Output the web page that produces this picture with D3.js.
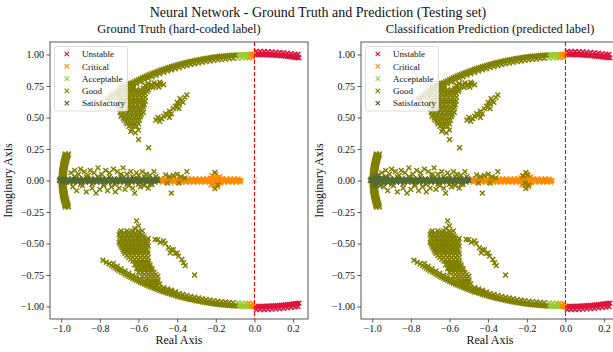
<!DOCTYPE html>
<html><head><meta charset="utf-8">
<script src="https://cdn.jsdelivr.net/npm/d3@7"></script>
<style>
body{margin:0;background:#fff}
text{font-family:"Liberation Serif","Times New Roman",serif;fill:#111}
</style></head>
<body><svg id="c" width="613" height="352"></svg>
<script>
// ---------- data ----------
const classNames = ["Unstable","Critical","Acceptable","Good","Satisfactory"];
const classColors = ["#dc143c","#ff8c00","#9acd32","#808000","#556b2f"];
const xTicks = [-1.0,-0.8,-0.6,-0.4,-0.2,0.0,0.2];
const yTicks = [-1.0,-0.75,-0.5,-0.25,0.0,0.25,0.5,0.75,1.0];
const mainTitle = "Neural Network - Ground Truth and Prediction (Testing set)";
const panelTitles = ["Ground Truth (hard-coded label)","Classification Prediction (predicted label)"];

const unstableArc = [
 [0.00,1.000],[0.01,1.000],[0.02,1.000],[0.03,1.000],[0.04,0.999],[0.05,0.999],[0.06,0.998],[0.07,0.998],[0.08,0.997],[0.09,0.996],[0.10,0.995],[0.11,0.994],[0.12,0.993],[0.13,0.992],[0.14,0.990],[0.15,0.989],[0.16,0.987],[0.17,0.986],[0.18,0.984],[0.19,0.982],[0.20,0.980],[0.21,0.978],[0.22,0.976],[0.23,0.973],
 [0.01,1.025],[0.03,1.025],[0.05,1.024],[0.07,1.023],[0.09,1.021],[0.11,1.019],[0.13,1.017],[0.15,1.014],[0.17,1.011],[0.19,1.007],[0.21,1.003],[0.225,1.000],
 [0.00,-1.000],[0.01,-1.000],[0.02,-1.000],[0.03,-1.000],[0.04,-0.999],[0.05,-0.999],[0.06,-0.998],[0.07,-0.998],[0.08,-0.997],[0.09,-0.996],[0.10,-0.995],[0.11,-0.994],[0.12,-0.993],[0.13,-0.992],[0.14,-0.990],[0.15,-0.989],[0.16,-0.987],[0.17,-0.986],[0.18,-0.984],[0.19,-0.982],[0.20,-0.980],[0.21,-0.978],[0.22,-0.976],[0.23,-0.973],
 [0.01,-1.025],[0.03,-1.025],[0.05,-1.024],[0.07,-1.023],[0.09,-1.021],[0.11,-1.019],[0.13,-1.017],[0.15,-1.014],[0.17,-1.011],[0.19,-1.007],[0.21,-1.003],[0.225,-1.000]
];
const criticalArc = [
 [-0.035,0.999],[-0.025,1.0],[-0.015,1.0],[-0.005,1.0],[-0.03,0.975],[-0.01,0.975],
 [-0.035,-0.999],[-0.025,-1.0],[-0.015,-1.0],[-0.005,-1.0],[-0.03,-0.975],[-0.01,-0.975]
];
const criticalLineX = [-0.49,-0.48,-0.47,-0.46,-0.45,-0.44,-0.43,-0.42,-0.41,-0.40,-0.39,-0.38,-0.37,-0.36,-0.35,-0.34,-0.33,-0.32,-0.31,-0.30,-0.29,-0.28,-0.27,-0.26,-0.25,-0.24,-0.23,-0.22,-0.21,-0.20,-0.19,-0.18,-0.17,-0.16,-0.15,-0.14,-0.13,-0.12,-0.11,-0.10,-0.09,-0.08,-0.07];
const criticalBand = [
 [-0.485,0.012],[-0.465,0.012],[-0.445,0.012],[-0.425,0.012],[-0.405,0.012],[-0.385,0.012],[-0.365,0.012],[-0.345,0.012],[-0.325,0.012],[-0.305,0.012],[-0.285,0.012],[-0.265,0.012],[-0.245,0.012],[-0.225,0.012],[-0.205,0.012],[-0.185,0.012],[-0.165,0.012],[-0.145,0.012],[-0.125,0.012],[-0.105,0.012],[-0.085,0.012],
 [-0.475,-0.012],[-0.455,-0.012],[-0.435,-0.012],[-0.415,-0.012],[-0.395,-0.012],[-0.375,-0.012],[-0.355,-0.012],[-0.335,-0.012],[-0.315,-0.012],[-0.295,-0.012],[-0.275,-0.012],[-0.255,-0.012],[-0.235,-0.012],[-0.215,-0.012],[-0.195,-0.012],[-0.175,-0.012],[-0.155,-0.012],[-0.135,-0.012],[-0.115,-0.012],[-0.095,-0.012],[-0.075,-0.012]
];
const criticalCluster = [[-0.23,0.02],[-0.22,-0.02],[-0.21,0.03],[-0.20,-0.03],[-0.19,0.02],[-0.18,-0.02],[-0.22,0.04],[-0.20,0.05],[-0.19,-0.05],[-0.21,-0.04],[-0.18,0.03],[-0.20,0.00],[-0.215,0.01],[-0.185,-0.01],[-0.225,-0.035],[-0.175,0.01]];
const acceptableArc = [
 [-0.09,0.996],[-0.08,0.997],[-0.07,0.998],[-0.06,0.998],[-0.05,0.999],[-0.04,0.999],[-0.085,0.972],[-0.065,0.973],[-0.045,0.974],
 [-0.09,-0.996],[-0.08,-0.997],[-0.07,-0.998],[-0.06,-0.998],[-0.05,-0.999],[-0.04,-0.999],[-0.085,-0.972],[-0.065,-0.973],[-0.045,-0.974]
];
const goodArcUpper = [
 [-0.76,0.650],[-0.75,0.661],[-0.74,0.673],[-0.73,0.683],[-0.72,0.694],[-0.71,0.704],[-0.70,0.714],[-0.69,0.724],[-0.68,0.733],[-0.67,0.742],[-0.66,0.751],[-0.65,0.760],[-0.64,0.768],[-0.63,0.777],[-0.62,0.785],[-0.61,0.792],[-0.60,0.800],[-0.59,0.807],[-0.58,0.815],[-0.57,0.822],[-0.56,0.828],[-0.55,0.835],[-0.54,0.842],[-0.53,0.848],[-0.52,0.854],[-0.51,0.860],[-0.50,0.866],[-0.49,0.872],[-0.48,0.877],[-0.47,0.883],[-0.46,0.888],[-0.45,0.893],[-0.44,0.898],[-0.43,0.903],[-0.42,0.908],[-0.41,0.912],[-0.40,0.917],[-0.39,0.921],[-0.38,0.925],[-0.37,0.929],[-0.36,0.933],[-0.35,0.937],[-0.34,0.940],[-0.33,0.944],[-0.32,0.947],[-0.31,0.951],[-0.30,0.954],[-0.29,0.957],[-0.28,0.960],[-0.27,0.963],[-0.26,0.966],[-0.25,0.968],[-0.24,0.971],[-0.23,0.973],[-0.22,0.976],[-0.21,0.978],[-0.20,0.980],[-0.19,0.982],[-0.18,0.984],[-0.17,0.986],[-0.16,0.987],[-0.15,0.989],[-0.14,0.990],[-0.13,0.992],[-0.12,0.993],[-0.11,0.994],[-0.10,0.995],
 [-0.75,0.636],[-0.73,0.658],[-0.71,0.679],[-0.69,0.699],[-0.67,0.717],[-0.65,0.735],[-0.63,0.752],[-0.61,0.767],[-0.59,0.782],[-0.57,0.797],[-0.55,0.810],[-0.53,0.823],[-0.51,0.835],[-0.49,0.847],[-0.47,0.858],[-0.45,0.868],[-0.43,0.878],[-0.41,0.887],[-0.39,0.896],[-0.37,0.904],[-0.35,0.912],[-0.33,0.919],[-0.31,0.926],[-0.29,0.932],[-0.27,0.938],[-0.25,0.943],[-0.23,0.948],[-0.21,0.953],[-0.19,0.957],[-0.17,0.961],[-0.15,0.964],[-0.13,0.967],[-0.11,0.969]
];
const goodArcLower = [
 [-0.784,-0.633],[-0.767,-0.649],[-0.752,-0.661],
 [-0.74,-0.673],[-0.73,-0.683],[-0.72,-0.694],[-0.71,-0.704],[-0.70,-0.714],[-0.69,-0.724],[-0.68,-0.733],[-0.67,-0.742],[-0.66,-0.751],[-0.65,-0.760],[-0.64,-0.768],[-0.63,-0.777],[-0.62,-0.785],[-0.61,-0.792],[-0.60,-0.800],[-0.59,-0.807],[-0.58,-0.815],[-0.57,-0.822],[-0.56,-0.828],[-0.55,-0.835],[-0.54,-0.842],[-0.53,-0.848],[-0.52,-0.854],[-0.51,-0.860],[-0.50,-0.866],[-0.49,-0.872],[-0.48,-0.877],[-0.47,-0.883],[-0.46,-0.888],[-0.45,-0.893],[-0.44,-0.898],[-0.43,-0.903],[-0.42,-0.908],[-0.41,-0.912],[-0.40,-0.917],[-0.39,-0.921],[-0.38,-0.925],[-0.37,-0.929],[-0.36,-0.933],[-0.35,-0.937],[-0.34,-0.940],[-0.33,-0.944],[-0.32,-0.947],[-0.31,-0.951],[-0.30,-0.954],[-0.29,-0.957],[-0.28,-0.960],[-0.27,-0.963],[-0.26,-0.966],[-0.25,-0.968],[-0.24,-0.971],[-0.23,-0.973],[-0.22,-0.976],[-0.21,-0.978],[-0.20,-0.980],[-0.19,-0.982],[-0.18,-0.984],[-0.17,-0.986],[-0.16,-0.987],[-0.15,-0.989],[-0.14,-0.990],[-0.13,-0.992],[-0.12,-0.993],[-0.11,-0.994],[-0.10,-0.995],
 [-0.73,-0.658],[-0.71,-0.679],[-0.69,-0.699],[-0.67,-0.717],[-0.65,-0.735],[-0.63,-0.752],[-0.61,-0.767],[-0.59,-0.782],[-0.57,-0.797],[-0.55,-0.810],[-0.53,-0.823],[-0.51,-0.835],[-0.49,-0.847],[-0.47,-0.858],[-0.45,-0.868],[-0.43,-0.878],[-0.41,-0.887],[-0.39,-0.896],[-0.37,-0.904],[-0.35,-0.912],[-0.33,-0.919],[-0.31,-0.926],[-0.29,-0.932],[-0.27,-0.938],[-0.25,-0.943],[-0.23,-0.948],[-0.21,-0.953],[-0.19,-0.957],[-0.17,-0.961],[-0.15,-0.964],[-0.13,-0.967],[-0.11,-0.969]
];
const goodVertical = [
 [-0.978,0.21],[-0.982,0.19],[-0.985,0.17],[-0.989,0.15],[-0.992,0.13],[-0.994,0.11],[-0.996,0.09],[-0.998,0.07],[-0.999,0.05],[-1.000,0.03],[-1.000,0.01],
 [-0.978,-0.21],[-0.982,-0.19],[-0.985,-0.17],[-0.989,-0.15],[-0.992,-0.13],[-0.994,-0.11],[-0.996,-0.09],[-0.998,-0.07],[-0.999,-0.05],[-1.000,-0.03],[-1.000,-0.01],
 [-0.980,0.20],[-0.984,0.18],[-0.987,0.16],[-0.990,0.14],[-0.993,0.12],[-0.995,0.10],[-0.997,0.08],[-0.998,0.06],[-0.999,0.04],[-1.000,0.02],[-1.000,0.00],
 [-0.980,-0.20],[-0.984,-0.18],[-0.987,-0.16],[-0.990,-0.14],[-0.993,-0.12],[-0.995,-0.10],[-0.997,-0.08],[-0.998,-0.06],[-0.999,-0.04],[-1.000,-0.02],
 [-0.965,0.20],[-0.969,0.18],[-0.972,0.16],[-0.975,0.14],[-0.978,0.12],[-0.980,0.10],[-0.982,0.08],[-0.983,0.06],[-0.984,0.04],[-0.985,0.02],[-0.985,0.00],
 [-0.965,-0.20],[-0.969,-0.18],[-0.972,-0.16],[-0.975,-0.14],[-0.978,-0.12],[-0.980,-0.10],[-0.982,-0.08],[-0.983,-0.06],[-0.984,-0.04],[-0.985,-0.02],
 [-0.963,0.21],[-0.967,0.19],[-0.970,0.17],[-0.974,0.15],[-0.977,0.13],[-0.979,0.11],[-0.981,0.09],[-0.983,0.07],[-0.984,0.05],[-0.985,0.03],[-0.985,0.01],
 [-0.963,-0.21],[-0.967,-0.19],[-0.970,-0.17],[-0.974,-0.15],[-0.977,-0.13],[-0.979,-0.11],[-0.981,-0.09],[-0.983,-0.07],[-0.984,-0.05],[-0.985,-0.03],[-0.985,-0.01]
];
const goodUpperBlob = [
 [-0.66,0.77],[-0.63,0.77],[-0.55,0.77],[-0.52,0.775],[-0.49,0.78],
 [-0.675,0.757],[-0.655,0.757],[-0.565,0.757],[-0.535,0.76],[-0.505,0.765],[-0.485,0.768],
 [-0.69,0.745],[-0.67,0.745],[-0.64,0.745],[-0.56,0.745],[-0.53,0.75],[-0.50,0.755],[-0.47,0.76],
 [-0.685,0.733],[-0.665,0.733],[-0.645,0.733],[-0.625,0.733],[-0.575,0.733],[-0.555,0.733],[-0.525,0.738],[-0.495,0.742],
 [-0.68,0.72],[-0.66,0.72],[-0.63,0.72],[-0.61,0.72],[-0.59,0.72],[-0.57,0.72],[-0.55,0.72],
 [-0.695,0.705],[-0.675,0.705],[-0.655,0.705],[-0.635,0.705],[-0.615,0.705],[-0.595,0.705],[-0.575,0.705],[-0.555,0.705],
 [-0.70,0.69],[-0.68,0.69],[-0.66,0.69],[-0.64,0.69],[-0.62,0.69],[-0.60,0.69],[-0.58,0.69],[-0.565,0.69],
 [-0.695,0.675],[-0.675,0.675],[-0.655,0.675],[-0.635,0.675],[-0.615,0.675],[-0.595,0.675],[-0.575,0.675],
 [-0.705,0.66],[-0.685,0.66],[-0.665,0.66],[-0.645,0.66],[-0.625,0.66],[-0.605,0.66],[-0.585,0.66],[-0.565,0.66],
 [-0.695,0.645],[-0.675,0.645],[-0.655,0.645],[-0.635,0.645],[-0.615,0.645],[-0.595,0.645],[-0.575,0.645],
 [-0.70,0.63],[-0.68,0.63],[-0.66,0.63],[-0.64,0.63],[-0.62,0.63],[-0.60,0.63],[-0.58,0.63],[-0.565,0.63],
 [-0.695,0.615],[-0.675,0.615],[-0.655,0.615],[-0.635,0.615],[-0.615,0.615],[-0.595,0.615],[-0.575,0.615],
 [-0.705,0.60],[-0.685,0.60],[-0.665,0.60],[-0.645,0.60],[-0.625,0.60],[-0.605,0.60],[-0.585,0.60],[-0.57,0.60],
 [-0.695,0.585],[-0.675,0.585],[-0.655,0.585],[-0.635,0.585],[-0.615,0.585],[-0.595,0.585],[-0.575,0.585],
 [-0.70,0.57],[-0.68,0.57],[-0.66,0.57],[-0.64,0.57],[-0.62,0.57],[-0.60,0.57],[-0.58,0.57],
 [-0.69,0.555],[-0.67,0.555],[-0.65,0.555],[-0.63,0.555],[-0.61,0.555],[-0.59,0.555],
 [-0.695,0.54],[-0.675,0.54],[-0.655,0.54],[-0.635,0.54],[-0.615,0.54],[-0.595,0.54],[-0.575,0.54],
 [-0.685,0.525],[-0.665,0.525],[-0.645,0.525],[-0.625,0.525],[-0.605,0.525],[-0.585,0.525],
 [-0.69,0.51],[-0.67,0.51],[-0.65,0.51],[-0.63,0.51],[-0.61,0.51],[-0.59,0.51],
 [-0.68,0.495],[-0.66,0.495],[-0.64,0.495],[-0.62,0.495],[-0.60,0.495],
 [-0.675,0.48],[-0.655,0.48],[-0.635,0.48],[-0.615,0.48],[-0.595,0.48],
 [-0.665,0.465],[-0.645,0.465],[-0.625,0.465],[-0.605,0.465],
 [-0.66,0.45],[-0.64,0.45],[-0.62,0.45],[-0.60,0.45],
 [-0.64,0.44],[-0.62,0.44],
 [-0.65,0.43],[-0.63,0.43],[-0.61,0.43],
 [-0.634,0.405],[-0.617,0.378],[-0.60,0.325],[-0.548,0.26],[-0.64,0.39],[-0.60,0.40]
];
const goodUpperStreak = [
 [-0.51,0.48],[-0.50,0.50],[-0.49,0.47],[-0.48,0.49],[-0.47,0.51],[-0.46,0.53],[-0.45,0.52],[-0.44,0.55],[-0.43,0.53],[-0.42,0.57],[-0.41,0.59],[-0.40,0.58],[-0.39,0.61],[-0.38,0.63],[-0.37,0.62],[-0.36,0.66],[-0.35,0.68],[-0.385,0.65],[-0.40,0.62],[-0.44,0.50],[-0.39,0.57]
];
const goodLowerBlob = [
 [-0.61,-0.32],[-0.60,-0.36],[-0.62,-0.38],
 [-0.69,-0.40],[-0.66,-0.40],[-0.63,-0.40],[-0.60,-0.40],[-0.58,-0.40],
 [-0.695,-0.415],[-0.675,-0.415],[-0.655,-0.415],[-0.635,-0.415],[-0.615,-0.415],[-0.595,-0.415],
 [-0.70,-0.43],[-0.68,-0.43],[-0.66,-0.43],[-0.64,-0.43],[-0.62,-0.43],[-0.60,-0.43],[-0.58,-0.43],
 [-0.695,-0.445],[-0.675,-0.445],[-0.655,-0.445],[-0.635,-0.445],[-0.615,-0.445],[-0.595,-0.445],[-0.575,-0.445],
 [-0.69,-0.46],[-0.67,-0.46],[-0.65,-0.46],[-0.63,-0.46],[-0.61,-0.46],[-0.59,-0.46],[-0.57,-0.46],[-0.55,-0.46],
 [-0.695,-0.475],[-0.675,-0.475],[-0.655,-0.475],[-0.635,-0.475],[-0.615,-0.475],[-0.595,-0.475],[-0.575,-0.475],[-0.555,-0.475],
 [-0.70,-0.49],[-0.68,-0.49],[-0.66,-0.49],[-0.64,-0.49],[-0.62,-0.49],[-0.60,-0.49],[-0.58,-0.49],[-0.56,-0.49],
 [-0.695,-0.505],[-0.675,-0.505],[-0.655,-0.505],[-0.635,-0.505],[-0.615,-0.505],[-0.595,-0.505],[-0.575,-0.505],[-0.555,-0.505],
 [-0.69,-0.52],[-0.67,-0.52],[-0.65,-0.52],[-0.63,-0.52],[-0.61,-0.52],[-0.59,-0.52],[-0.57,-0.52],[-0.55,-0.52],
 [-0.685,-0.535],[-0.665,-0.535],[-0.645,-0.535],[-0.625,-0.535],[-0.605,-0.535],[-0.585,-0.535],[-0.565,-0.535],
 [-0.68,-0.55],[-0.66,-0.55],[-0.64,-0.55],[-0.62,-0.55],[-0.60,-0.55],[-0.58,-0.55],[-0.56,-0.55],
 [-0.675,-0.565],[-0.655,-0.565],[-0.635,-0.565],[-0.615,-0.565],[-0.595,-0.565],[-0.575,-0.565],[-0.555,-0.565],
 [-0.67,-0.58],[-0.65,-0.58],[-0.63,-0.58],[-0.61,-0.58],[-0.59,-0.58],[-0.57,-0.58],[-0.55,-0.58],
 [-0.66,-0.595],[-0.64,-0.595],[-0.62,-0.595],[-0.60,-0.595],[-0.58,-0.595],[-0.56,-0.595],
 [-0.65,-0.61],[-0.63,-0.61],[-0.61,-0.61],[-0.59,-0.61],[-0.57,-0.61],[-0.55,-0.61],
 [-0.64,-0.625],[-0.62,-0.625],[-0.60,-0.625],[-0.58,-0.625],[-0.56,-0.625],
 [-0.63,-0.64],[-0.61,-0.64],[-0.59,-0.64],[-0.57,-0.64],[-0.55,-0.64],
 [-0.61,-0.655],[-0.59,-0.655],[-0.57,-0.655],[-0.55,-0.655],
 [-0.62,-0.67],[-0.60,-0.67],[-0.58,-0.67],[-0.56,-0.67],[-0.54,-0.67],
 [-0.60,-0.685],[-0.58,-0.685],[-0.56,-0.685],[-0.54,-0.685],
 [-0.61,-0.70],[-0.59,-0.70],[-0.57,-0.70],[-0.55,-0.70],[-0.53,-0.70],
 [-0.59,-0.715],[-0.57,-0.715],[-0.55,-0.715],[-0.53,-0.715],
 [-0.60,-0.73],[-0.58,-0.73],[-0.56,-0.73],[-0.54,-0.73],[-0.52,-0.73],
 [-0.57,-0.745],[-0.55,-0.745],[-0.53,-0.745],[-0.51,-0.745],
 [-0.58,-0.76],[-0.56,-0.76],[-0.54,-0.76],[-0.52,-0.76],[-0.50,-0.76],
 [-0.55,-0.775],[-0.53,-0.775],[-0.51,-0.775],
 [-0.56,-0.79],[-0.54,-0.79],[-0.52,-0.79],[-0.50,-0.79],
 [-0.54,-0.805],[-0.52,-0.805],[-0.50,-0.805],
 [-0.53,-0.82],[-0.51,-0.82],[-0.49,-0.82],
 [-0.47,-0.85],[-0.45,-0.86],[-0.43,-0.87],[-0.41,-0.885],[-0.46,-0.875]
];
const goodLowerStreak = [
 [-0.514,-0.468],[-0.50,-0.47],[-0.488,-0.49],[-0.47,-0.48],[-0.462,-0.50],[-0.445,-0.534],[-0.436,-0.574],[-0.43,-0.55],[-0.419,-0.548],[-0.41,-0.58],[-0.40,-0.574],[-0.393,-0.60],[-0.376,-0.627],[-0.367,-0.653],[-0.358,-0.675],[-0.31,-0.75]
];
const goodRealScatter = [
 [-0.95,0.06],[-0.94,-0.05],[-0.93,0.08],[-0.92,-0.08],[-0.91,0.05],[-0.90,0.09],[-0.89,-0.04],[-0.88,0.07],[-0.87,-0.09],[-0.86,0.04],[-0.85,0.08],[-0.84,-0.06],[-0.83,0.06],[-0.82,-0.10],[-0.81,0.10],[-0.80,-0.07],[-0.79,0.05],[-0.78,-0.04],[-0.77,0.08],[-0.76,-0.08],[-0.75,0.06],[-0.74,-0.05],[-0.73,0.09],[-0.72,-0.09],[-0.71,0.07],[-0.70,-0.06],[-0.69,0.05],[-0.68,0.10],[-0.67,-0.07],[-0.66,0.05],[-0.65,-0.04],[-0.64,0.07],[-0.63,-0.06],[-0.62,-0.10],[-0.61,0.06],[-0.60,0.04],[-0.59,-0.05],[-0.58,0.07],[-0.57,-0.04],[-0.56,0.05],[-0.55,-0.06],[-0.54,0.04],[-0.53,-0.03],[-0.52,0.07],[-0.51,0.03],
 [-0.93,0.03],[-0.90,-0.03],[-0.87,0.03],[-0.84,-0.03],[-0.81,0.03],[-0.78,-0.03],[-0.75,0.03],[-0.72,-0.03],[-0.69,0.03],[-0.66,-0.03],[-0.63,0.03],[-0.60,-0.03],[-0.57,0.03],[-0.54,-0.03],
 [-0.46,0.045],[-0.44,0.03],[-0.43,-0.10],[-0.42,0.04],[-0.40,0.05],[-0.38,0.03],[-0.36,0.02],[-0.35,0.07],[-0.45,-0.02],[-0.39,-0.02],
 [-0.205,0.065],[-0.205,-0.065],[-0.19,-0.035]
];
const satisfactoryLineX = [-1.01,-1.00,-0.99,-0.98,-0.97,-0.96,-0.95,-0.94,-0.93,-0.92,-0.91,-0.90,-0.89,-0.88,-0.87,-0.86,-0.85,-0.84,-0.83,-0.82,-0.81,-0.80,-0.79,-0.78,-0.77,-0.76,-0.75,-0.74,-0.73,-0.72,-0.71,-0.70,-0.69,-0.68,-0.67,-0.66,-0.65,-0.64,-0.63,-0.62,-0.61,-0.60,-0.59,-0.58,-0.57,-0.56,-0.55,-0.54,-0.53,-0.52,-0.51,-0.50];
const satisfactoryBand = [
 [-1.005,0.012],[-0.985,0.012],[-0.965,0.012],[-0.945,0.012],[-0.925,0.012],[-0.905,0.012],[-0.885,0.012],[-0.865,0.012],[-0.845,0.012],[-0.825,0.012],[-0.805,0.012],[-0.785,0.012],[-0.765,0.012],[-0.745,0.012],[-0.725,0.012],[-0.705,0.012],[-0.685,0.012],[-0.665,0.012],[-0.645,0.012],[-0.625,0.012],[-0.605,0.012],[-0.585,0.012],[-0.565,0.012],[-0.545,0.012],[-0.525,0.012],[-0.505,0.012],
 [-0.995,-0.012],[-0.975,-0.012],[-0.955,-0.012],[-0.935,-0.012],[-0.915,-0.012],[-0.895,-0.012],[-0.875,-0.012],[-0.855,-0.012],[-0.835,-0.012],[-0.815,-0.012],[-0.795,-0.012],[-0.775,-0.012],[-0.755,-0.012],[-0.735,-0.012],[-0.715,-0.012],[-0.695,-0.012],[-0.675,-0.012],[-0.655,-0.012],[-0.635,-0.012],[-0.615,-0.012],[-0.595,-0.012],[-0.575,-0.012],[-0.555,-0.012],[-0.535,-0.012],[-0.515,-0.012]
];
const predSatisfactoryExtra = [[-0.99,0.03],[-0.98,-0.03],[-0.97,0.04],[-0.96,-0.04],[-0.95,0.02],[-0.94,-0.02],[-0.99,-0.045],[-0.97,0.015],[-0.93,0.02],[-0.92,-0.015]];
const predGoodExtra = [[-0.22,0.035],[-0.21,-0.02],[-0.195,0.045]];
const originMark = [[0.0,0.0]];

// ---------- layout ----------
const svg = d3.select("#c");
const xDomain = [-1.058, 0.277];
const yDomain = [-1.103, 1.103];
const markerPath = h => `M${-h},${-h}L${h},${h}M${-h},${h}L${h},${-h}`;

svg.append("text").attr("x", 318).attr("y", 17).attr("text-anchor","middle")
  .style("font-size","14px").text(mainTitle);

function panel(idx, left, series) {
  const top = 42, bottom = 319, width = 258;
  const x = d3.scaleLinear().domain(xDomain).range([left, left + width]);
  const y = d3.scaleLinear().domain(yDomain).range([bottom + 0.5, top - 0.5]);
  const g = svg.append("g");
  const cid = "clip" + idx;
  svg.append("clipPath").attr("id", cid).append("rect")
    .attr("x", left).attr("y", top).attr("width", width).attr("height", bottom - top);

  const plot = g.append("g").attr("clip-path", `url(#${cid})`);
  series.forEach((pts, i) => {
    plot.append("g").selectAll("path").data(pts).join("path")
      .attr("d", markerPath(2.4))
      .attr("transform", d => `translate(${x(d[0])},${y(d[1])})`)
      .attr("stroke", classColors[i]).attr("stroke-width", 1.5).attr("fill", "none");
  });
  plot.append("g").selectAll("path").data(originMark).join("path")
    .attr("d", markerPath(2.6))
    .attr("transform", d => `translate(${x(d[0])},${y(d[1])})`)
    .attr("stroke", "#d0d0d0").attr("stroke-width", 1.2).attr("fill", "none");
  plot.append("line").attr("x1", x(0)).attr("x2", x(0)).attr("y1", top).attr("y2", bottom)
    .attr("stroke", "#ff0000").attr("stroke-width", 1.1).attr("stroke-dasharray", "4,2");

  // legend
  const lg = g.append("g").attr("transform", `translate(${left + 4.5},${46.5})`);
  lg.append("rect").attr("width", 73).attr("height", 64.5).attr("rx", 2)
    .attr("fill", "#fff").attr("fill-opacity", 0.8).attr("stroke", "#d4d4d4").attr("stroke-width", 0.8);
  classNames.forEach((name, i) => {
    const yy = 7.5 + i * 12.3;
    lg.append("path").attr("d", markerPath(2.2)).attr("transform", `translate(12.3,${yy})`)
      .attr("stroke", classColors[i]).attr("stroke-width", 1.1).attr("fill", "none");
    lg.append("text").attr("x", 27.5).attr("y", yy + 3.2).style("font-size", "9px").text(name);
  });

  // axes
  const ax = g.append("g").attr("transform", `translate(0,${bottom})`)
    .call(d3.axisBottom(x).tickValues(xTicks).tickFormat(d3.format(".1f")).tickSize(3.5).tickPadding(2.5).tickSizeOuter(0));
  const ay = g.append("g").attr("transform", `translate(${left},0)`)
    .call(d3.axisLeft(y).tickValues(yTicks).tickFormat(d3.format(".2f")).tickSize(3.5).tickPadding(2.5).tickSizeOuter(0));
  [ax, ay].forEach(a => {
    a.select(".domain").remove();
    a.selectAll("line").attr("stroke", "#444").attr("stroke-width", 0.9);
    a.selectAll("text").style("font-size", "10px").attr("fill", "#111")
      .style("font-family", '"Liberation Serif","Times New Roman",serif');
  });
  g.append("rect").attr("x", left).attr("y", top).attr("width", width).attr("height", bottom - top)
    .attr("fill", "none").attr("stroke", "#444").attr("stroke-width", 0.9);

  g.append("text").attr("x", left + width / 2).attr("y", 33).attr("text-anchor", "middle")
    .style("font-size", "12.5px").text(panelTitles[idx]);
  g.append("text").attr("x", left + width / 2).attr("y", 344).attr("text-anchor", "middle")
    .style("font-size", "12px").text("Real Axis");
  g.append("text").attr("transform", `translate(${left - 38},${(top + bottom) / 2}) rotate(-90)`)
    .attr("text-anchor", "middle").style("font-size", "12px").text("Imaginary Axis");
}

const line = xs => xs.map(v => [v, 0]);
const goodAll = goodArcUpper.concat(goodArcLower, goodVertical, goodUpperBlob, goodUpperStreak, goodLowerBlob, goodLowerStreak, goodRealScatter);
const criticalAll = criticalArc.concat(line(criticalLineX), criticalBand, criticalCluster);
const gtSeries = [unstableArc, criticalAll, acceptableArc, goodAll, line(satisfactoryLineX).concat(satisfactoryBand)];
const predSeries = [unstableArc, criticalAll, acceptableArc, goodAll.concat(predGoodExtra), line(satisfactoryLineX).concat(satisfactoryBand, predSatisfactoryExtra)];
panel(0, 50, gtSeries);
panel(1, 361, predSeries);
</script></body></html>
